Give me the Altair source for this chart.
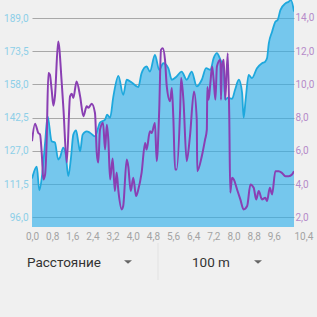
import altair as alt
import pandas as pd

# ---- data ----
km_elev = [0.00, 0.19, 0.29, 0.39, 0.52, 0.62, 0.78, 0.91, 1.04, 1.11, 1.24, 1.34, 1.44, 1.54,
           1.64, 1.75, 1.84, 1.91, 2.01, 2.17, 2.30, 2.50, 2.70, 2.90, 2.98, 3.10, 3.23, 3.43,
           3.62, 3.76, 3.96, 4.22, 4.35, 4.55, 4.68, 4.88, 5.05, 5.21, 5.41, 5.55, 5.74, 5.94,
           6.14, 6.34, 6.54, 6.74, 6.91, 7.08, 7.21, 7.34, 7.48, 7.61, 7.67, 7.78, 7.94, 8.06,
           8.21, 8.34, 8.40, 8.48, 8.60, 8.73, 8.93, 9.13, 9.26, 9.33, 9.40, 9.53, 9.66, 9.75,
           9.86, 10.06, 10.19, 10.28, 10.40]
elevation = [114.1, 119.6, 108.6, 114.6, 130.9, 143.1, 131.5, 130.9, 123.0, 123.9, 128.5, 125.3,
             115.2, 123.0, 134.6, 136.6, 130.9, 126.8, 134.6, 136.1, 135.5, 133.8, 140.2, 141.6,
             143.9, 142.5, 152.4, 162.0, 153.2, 160.2, 158.9, 156.8, 163.3, 166.4, 164.0, 171.8,
             164.8, 167.9, 165.6, 160.2, 161.7, 164.0, 160.2, 164.0, 157.1, 160.2, 165.6, 164.8,
             170.3, 172.6, 169.5, 165.6, 150.9, 151.8, 151.3, 155.5, 160.2, 154.1, 142.5, 150.9,
             162.5, 161.0, 165.6, 167.9, 168.7, 170.3, 177.2, 182.6, 187.3, 188.1, 192.7, 195.8,
             196.6, 197.4, 192.0]

km_speed = [0.00, 0.12, 0.25, 0.32, 0.39, 0.45, 0.52, 0.58, 0.65, 0.71, 0.78, 0.85, 0.91, 1.04,
            1.18, 1.25, 1.38, 1.51, 1.58, 1.64, 1.77, 1.91, 2.04, 2.17, 2.24, 2.37, 2.50, 2.57,
            2.63, 2.70, 2.82, 2.90, 2.97, 3.03, 3.10, 3.20, 3.29, 3.36, 3.43, 3.56, 3.62, 3.76,
            3.82, 3.92, 4.02, 4.13, 4.22, 4.35, 4.49, 4.55, 4.68, 4.75, 4.88, 4.95, 5.05, 5.12,
            5.19, 5.28, 5.35, 5.48, 5.55, 5.61, 5.68, 5.74, 5.88, 5.92, 6.01, 6.14, 6.27, 6.43,
            6.54, 6.56, 6.74, 6.87, 6.94, 6.96, 7.01, 7.08, 7.15, 7.21, 7.28, 7.34, 7.48, 7.50,
            7.54, 7.61, 7.67, 7.77, 7.83, 7.87, 7.94, 8.01, 8.14, 8.27, 8.40, 8.54, 8.67, 8.80,
            8.90, 9.00, 9.13, 9.26, 9.33, 9.44, 9.53, 9.66, 9.79, 9.92, 10.06, 10.19, 10.32, 10.40]
speed = [6.58, 7.64, 7.08, 6.98, 5.78, 4.28, 4.58, 6.48, 10.68, 10.58, 9.68, 8.72, 9.28, 12.58,
         10.10, 8.48, 5.30, 9.28, 9.44, 9.18, 10.18, 9.28, 8.08, 8.68, 8.60, 8.84, 8.28, 5.90,
         5.30, 7.28, 7.70, 6.08, 7.58, 6.68, 4.28, 5.54, 3.58, 4.70, 3.58, 2.48, 2.68, 5.48,
         5.08, 3.58, 4.38, 3.28, 3.68, 4.68, 6.48, 6.08, 7.18, 7.08, 7.68, 5.38, 8.48, 12.08,
         12.18, 11.48, 9.88, 8.98, 9.78, 8.00, 4.88, 4.88, 8.48, 10.38, 9.08, 5.38, 6.88, 9.58,
         7.88, 4.78, 5.68, 6.68, 7.28, 9.84, 9.08, 10.08, 11.08, 10.28, 9.08, 11.08, 11.48, 9.08,
         11.08, 11.48, 9.08, 11.88, 8.08, 3.48, 4.38, 4.28, 3.68, 3.08, 2.48, 2.68, 3.98, 3.78,
         3.08, 3.58, 3.08, 3.18, 2.98, 3.78, 3.38, 4.78, 4.78, 4.68, 4.48, 4.48, 4.58, 4.78]

x_ticks = [0.0, 0.8, 1.6, 2.4, 3.2, 4.0, 4.8, 5.6, 6.4, 7.2, 8.0, 8.8, 9.6, 10.4]
left_ticks = [96.0, 111.5, 127.0, 142.5, 158.0, 173.5, 189.0]
right_ticks = [2.0, 4.0, 6.0, 8.0, 10.0, 12.0, 14.0]
ui_left = ["Расстояние"]
ui_right = ["100 m"]

elev_df = pd.DataFrame({"km": km_elev, "elev": elevation})
speed_df = pd.DataFrame({"km": km_speed, "speed": speed})

FMT = "replace(format(datum.value, '.1f'), '.', ',')"
FONT = "Roboto"

xscale = alt.Scale(domain=[0, 10.4], nice=False, zero=False)
left_scale = alt.Scale(domain=[91.5, 197.4], nice=False, zero=False)
right_scale = alt.Scale(domain=[1.42, 15.08], nice=False, zero=False)


def xaxis():
    return alt.Axis(values=x_ticks, labelExpr=FMT, grid=False, domain=False, ticks=False,
                    labelColor="#a3a3a3", labelFontSize=10, labelFont=FONT, labelPadding=4,
                    title=None, labelFlush=False, labelOverlap=False, labelBound=False,
                    labelAlign={"condition": {"test": "datum.value > 10", "value": "left"},
                                "value": "center"})


area = alt.Chart(elev_df).mark_area(
    interpolate="monotone", color="#2aafec", fillOpacity=0.62, clip=True
).encode(
    x=alt.X("km:Q", scale=xscale, axis=xaxis()),
    y=alt.Y("elev:Q", scale=left_scale,
            axis=alt.Axis(orient="left", values=left_ticks, labelExpr=FMT, grid=True,
                          gridColor="#a8a8a8", gridWidth=1, domain=False, ticks=False,
                          labelColor="#8dcfe8", labelFontSize=10, labelFont=FONT,
                          labelPadding=4, title=None)),
)

bline = alt.Chart(elev_df).mark_line(
    interpolate="monotone", color="#1ea8dd", strokeWidth=1.8, clip=True
).encode(
    x=alt.X("km:Q", scale=xscale, axis=xaxis()),
    y=alt.Y("elev:Q", scale=left_scale, axis=None),
)

purple = alt.Chart(speed_df).mark_line(
    interpolate="monotone", color="#8a3fb3", strokeWidth=2, clip=True
).encode(
    x=alt.X("km:Q", scale=xscale, axis=xaxis()),
    y=alt.Y("speed:Q", scale=right_scale,
            axis=alt.Axis(orient="right", values=right_ticks, labelExpr=FMT, grid=False,
                          domain=False, ticks=False, labelColor="#b68bc9", labelFontSize=10,
                          labelFont=FONT, labelPadding=1, title=None)),
)

# ---- bottom selector bar ----
one = pd.DataFrame({"t": ui_left})
two = pd.DataFrame({"t": ui_right})
tri = pd.DataFrame({"k": [0]})
TRI = "M-1,-0.45L1,-0.45L0,0.45Z"

txt1 = alt.Chart(one).mark_text(align="left", baseline="middle", font=FONT, fontSize=13.5,
                                color="#333333").encode(
    text="t:N", x=alt.value(-5), y=alt.value(263))
txt2 = alt.Chart(two).mark_text(align="left", baseline="middle", font=FONT, fontSize=13.5,
                                color="#333333").encode(
    text="t:N", x=alt.value(160), y=alt.value(263))
tri1 = alt.Chart(tri).mark_point(shape=TRI, filled=True, size=64, color="#666666",
                                 opacity=1).encode(x=alt.value(96), y=alt.value(262))
tri2 = alt.Chart(tri).mark_point(shape=TRI, filled=True, size=64, color="#666666",
                                 opacity=1).encode(x=alt.value(226), y=alt.value(262))
divider = alt.Chart(tri).mark_rule(color="#e2e2e2", strokeWidth=1).encode(
    x=alt.value(126), y=alt.value(243), y2=alt.value(280))

chart = alt.layer(
    area, bline, purple, txt1, txt2, tri1, tri2, divider
).resolve_scale(y="independent").properties(
    width=262, height=227, background="#f0f0f0",
    autosize=alt.AutoSizeParams(type="none"),
    padding={"left": 32, "top": 0, "right": 23, "bottom": 90},
).configure_view(stroke=None)

chart.save("out.html", embed_options={"renderer": "svg", "actions": False})
